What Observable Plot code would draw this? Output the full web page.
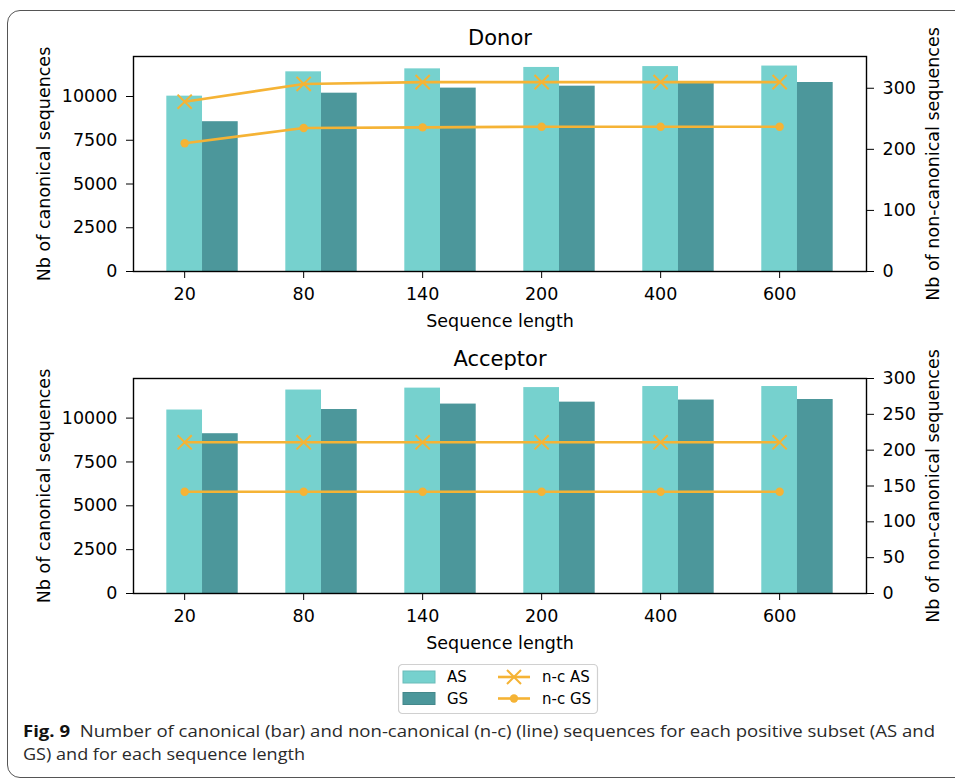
<!DOCTYPE html>
<html><head><meta charset="utf-8">
<script src="https://cdn.jsdelivr.net/npm/d3@7"></script>
<script src="https://cdn.jsdelivr.net/npm/@observablehq/plot@0.6"></script>
<style>
body{margin:0;background:#fff;overflow:hidden}
#wrap{position:relative;width:955px;height:780px;overflow:hidden;font-family:"DejaVu Sans",sans-serif;background:#fff}
#box{position:absolute;left:7px;top:10px;width:990px;height:768px;border:1.5px solid #555;border-radius:13px;box-sizing:border-box}
#top,#bottom,#caption{position:absolute;left:0}
#top{top:0}
#bottom{top:330px}
#caption{top:715px}
#legend{position:absolute;left:398px;top:664px}
</style></head><body>
<div id="wrap">
<div id="box"></div>
<div id="top"></div>
<div id="bottom"></div>
<div id="legend"></div>
<div id="caption"></div>
</div>
<script>
// ---- data ----
const lengths = ["20", "80", "140", "200", "400", "600"];
const donorAS = [10020, 11410, 11580, 11660, 11710, 11740];
const donorGS = [8560, 10190, 10480, 10590, 10820, 10800];
const donorNcAS = [278, 307, 310, 310, 310, 310];
const donorNcGS = [210, 235, 236, 237, 237, 237];
const accAS = [10460, 11600, 11710, 11740, 11800, 11800];
const accGS = [9110, 10490, 10800, 10910, 11030, 11060];
const accNcAS = [211, 211, 211, 211, 211, 211];
const accNcGS = [142, 142, 142, 142, 142, 142];
const leftTicks = [0, 2500, 5000, 7500, 10000];
const donorRightTicks = [0, 100, 200, 300];
const accRightTicks = [0, 50, 100, 150, 200, 250, 300];
const donorLimits = {left: 12286, right: 352};
const accLimits = {left: 12258, right: 300};
const captionBold = "Fig. 9";
const captionLines = [
  "Number of canonical (bar) and non-canonical (n-c) (line) sequences for each positive subset (AS and",
  "GS) and for each sequence length"
];

const AS_COLOR = "#76d1ce", GS_COLOR = "#4c979b", ORANGE = "#f5b335";
const FONT = "DejaVu Sans";

function chart({title, as, gs, ncAS, ncGS, limits, rTicks, height, marginTop, marginBottom, titleDy}) {
  const k = limits.left / limits.right;
  const rows = lengths.map((len, i) => ({i, len, as: as[i], gs: gs[i], ncas: ncAS[i] * k, ncgs: ncGS[i] * k}));
  return Plot.plot({
    width: 955, height, marginLeft: 133, marginRight: 89, marginTop, marginBottom,
    style: {fontFamily: FONT, fontSize: "17.5px", color: "#000", background: "transparent", overflow: "visible"},
    x: {domain: [-0.43, 5.73]},
    y: {domain: [0, limits.left]},
    marks: [
      Plot.rect(rows, {x1: d => d.i - 0.15, x2: d => d.i + 0.15, y1: 0, y2: "as", fill: AS_COLOR}),
      Plot.rect(rows, {x1: d => d.i + 0.15, x2: d => d.i + 0.45, y1: 0, y2: "gs", fill: GS_COLOR}),
      Plot.line(rows, {x: "i", y: "ncas", stroke: ORANGE, strokeWidth: 2.6}),
      Plot.dot(rows, {x: "i", y: "ncas", symbol: "times", r: 6.5, stroke: ORANGE, strokeWidth: 2}),
      Plot.line(rows, {x: "i", y: "ncgs", stroke: ORANGE, strokeWidth: 2.6}),
      Plot.dot(rows, {x: "i", y: "ncgs", symbol: "circle", r: 4.2, fill: ORANGE, stroke: "none"}),
      Plot.frame({stroke: "#000", strokeWidth: 1.4}),
      Plot.axisX({ticks: rows.map(d => d.i), tickFormat: i => lengths[i], tickSize: 7, tickPadding: 9,
        label: "Sequence length", labelAnchor: "center", labelOffset: 55, labelArrow: "none"}),
      Plot.axisY({ticks: leftTicks, tickFormat: d3.format("d"), tickSize: 7, tickPadding: 9,
        label: "Nb of canonical sequences", labelAnchor: "center", labelOffset: 96, labelArrow: "none"}),
      Plot.axisY({anchor: "right", ticks: rTicks.map(t => t * k), tickFormat: d => String(Math.round(d / k)),
        tickSize: 7, tickPadding: 9, label: "Nb of non-canonical sequences", labelAnchor: "center", labelOffset: 72, labelArrow: "none"}),
      Plot.text([title], {frameAnchor: "top", lineAnchor: "bottom", dy: titleDy, fontSize: 21})
    ]
  });
}

document.getElementById("top").append(chart({
  title: "Donor", as: donorAS, gs: donorGS, ncAS: donorNcAS, ncGS: donorNcGS,
  limits: donorLimits, rTicks: donorRightTicks, height: 330, marginTop: 56, marginBottom: 59, titleDy: -12
}));
document.getElementById("bottom").append(chart({
  title: "Acceptor", as: accAS, gs: accGS, ncAS: accNcAS, ncGS: accNcGS,
  limits: accLimits, rTicks: accRightTicks, height: 327, marginTop: 48, marginBottom: 64, titleDy: -13
}));

// ---- legend ----
const legendItems = [
  {label: "AS", kind: "bar", color: AS_COLOR, col: 0, row: 0},
  {label: "GS", kind: "bar", color: GS_COLOR, col: 0, row: 1},
  {label: "n-c AS", kind: "times", color: ORANGE, col: 1, row: 0},
  {label: "n-c GS", kind: "circle", color: ORANGE, col: 1, row: 1}
];
const lg = d3.create("svg").attr("width", 201).attr("height", 51).style("font-family", FONT).style("font-size", "15px");
lg.append("rect").attr("x", 0.5).attr("y", 0.5).attr("width", 199).attr("height", 49).attr("rx", 4)
  .attr("fill", "#fff").attr("stroke", "#d0d0d0").attr("stroke-width", 1.2);
for (const it of legendItems) {
  const x0 = it.col === 0 ? 5 : 100, yc = it.row === 0 ? 13 : 34.5;
  const g = lg.append("g");
  if (it.kind === "bar") {
    g.append("rect").attr("x", x0).attr("y", yc - 6).attr("width", 32).attr("height", 12).attr("fill", it.color)
      .attr("stroke", d3.color(it.color).darker(0.3)).attr("stroke-width", 1);
  } else {
    g.append("line").attr("x1", x0).attr("x2", x0 + 32).attr("y1", yc).attr("y2", yc).attr("stroke", it.color).attr("stroke-width", 2.6);
    if (it.kind === "times") {
      const s = 7;
      g.append("path").attr("d", `M${x0 + 16 - s},${yc - s}L${x0 + 16 + s},${yc + s}M${x0 + 16 - s},${yc + s}L${x0 + 16 + s},${yc - s}`)
        .attr("stroke", it.color).attr("stroke-width", 2);
    } else {
      g.append("circle").attr("cx", x0 + 16).attr("cy", yc).attr("r", 4.2).attr("fill", it.color);
    }
  }
  g.append("text").attr("x", x0 + 44).attr("y", yc).attr("dy", "0.36em").attr("fill", "#000").text(it.label);
}
document.getElementById("legend").append(lg.node());

// ---- caption ----
const cap = d3.create("svg").attr("width", 955).attr("height", 62)
  .style("font-family", "'Open Sans', 'Noto Sans', sans-serif").style("font-size", "16.5px").attr("fill", "#2a2a2a");
const t1 = cap.append("text").attr("x", 23).attr("y", 22).attr("textLength", 912).attr("lengthAdjust", "spacingAndGlyphs");
t1.append("tspan").attr("font-weight", "bold").attr("fill", "#111").text(captionBold);
t1.append("tspan").text("\u00a0 " + captionLines[0]);
cap.append("text").attr("x", 23).attr("y", 45).attr("textLength", 282).attr("lengthAdjust", "spacingAndGlyphs").text(captionLines[1]);
document.getElementById("caption").append(cap.node());
</script>
</body></html>
